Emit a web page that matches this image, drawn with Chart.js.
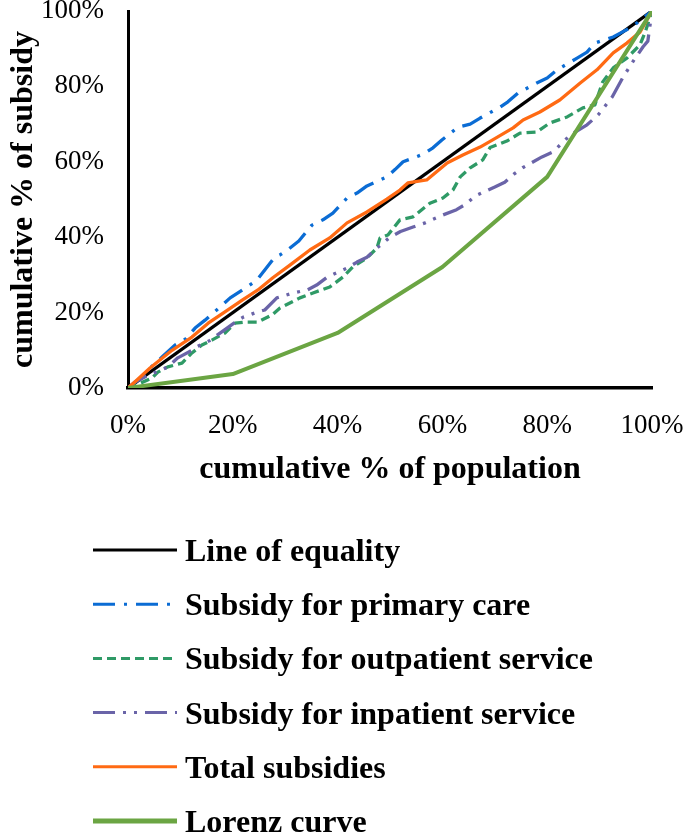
<!DOCTYPE html>
<html>
<head>
<meta charset="utf-8">
<script src="https://cdn.jsdelivr.net/npm/chart.js@4.4.1/dist/chart.umd.min.js"></script>
<style>
  html, body { margin: 0; padding: 0; background: #ffffff; }
  #wrap { width: 685px; height: 832px; }
</style>
</head>
<body>
<div id="wrap"><canvas id="c" width="685" height="832"></canvas></div>
<script>
// ---- data ----
const seriesNames = ["Line of equality", "Subsidy for primary care", "Subsidy for outpatient service", "Subsidy for inpatient service", "Total subsidies", "Lorenz curve"];
const xTickValues = [0, 20, 40, 60, 80, 100];
const yTickValues = [0, 20, 40, 60, 80, 100];

const equalityX = [0, 100];
const equalityY = [0, 100];

const primaryX = [0, 2, 4, 6.5, 9, 11, 12.8, 14.7, 17.6, 19.5, 22.7, 24.6, 26.1, 28, 29, 30.7, 32.6, 35.1, 37.2, 39.1, 41.8, 43.7, 45.6, 49.4, 51, 52.5, 56.3, 58.2, 59.9, 63, 65.3, 67.2, 71, 72.5, 74.4, 78, 80, 81.9, 85.7, 87.6, 89.1, 92.6, 94.3, 96.2, 100];
const primaryY = [0, 2.2, 5, 8.2, 11.4, 13, 15.9, 18, 21.5, 23.9, 26.8, 28.6, 31.3, 34.7, 35.3, 36.9, 39, 43.2, 44.6, 46.4, 50.4, 51.7, 53.6, 56, 58, 60, 62, 63.7, 65.8, 69.2, 70, 71.6, 74.5, 75.9, 78.2, 80.9, 82.2, 84.4, 87.5, 89.1, 91.5, 93.1, 94.4, 95.8, 100];

const outpatientX = [0, 0.8, 4.6, 5.7, 7.6, 10.3, 12.2, 14.1, 16, 18.5, 20.4, 22.3, 24.8, 27.5, 29, 32.8, 35.3, 38.5, 41, 42.9, 45.6, 47.5, 48.1, 49.6, 51.9, 54.4, 57.6, 60.1, 62, 63.4, 65.3, 67.7, 69.1, 72.3, 74.8, 78, 80.5, 83.8, 86.8, 89.1, 90.6, 92.6, 95.2, 97.7, 98.7, 100];
const outpatientY = [0, 0.3, 2.7, 4.2, 5.6, 6.6, 9.3, 11.4, 12.7, 14.6, 17.2, 17.5, 17.5, 19.4, 21.2, 23.9, 25.2, 26.8, 29.4, 32.1, 34.5, 37.1, 39.8, 40.6, 44.6, 45.4, 49, 50.4, 52.5, 56, 58.4, 60.5, 63.8, 65.5, 67.6, 67.9, 70.3, 71.9, 74.3, 75.1, 81.2, 84.9, 87.5, 91, 94.4, 100];

const inpatientX = [0, 1.3, 3.2, 7.6, 9.5, 12.2, 13.2, 15.5, 18.5, 21, 22, 24.2, 26.1, 28.4, 31.5, 34.2, 36, 38, 41.8, 43.7, 45.6, 47.5, 50, 52, 54.4, 56.7, 60.1, 62.7, 64.5, 66.2, 70, 71.9, 73.7, 75.4, 79, 81.1, 84.4, 87.6, 89.7, 92.4, 94.5, 96.8, 98.3, 99.2, 100];
const inpatientY = [0, 1.6, 2.9, 5.6, 8, 10, 11, 12.5, 15.5, 18, 18.8, 19.9, 20.7, 23.9, 25.2, 26, 27.3, 29.4, 31.8, 33.4, 34.7, 37.1, 40, 41.5, 42.7, 43.8, 45.9, 47.3, 48.8, 50.9, 53.3, 54.6, 56.8, 58.5, 61.3, 62.6, 67.1, 69.8, 72.4, 77.2, 82.5, 87.5, 90.5, 92, 100];

const totalX = [0, 1.3, 4.2, 8.4, 12.2, 15.3, 18.5, 21.8, 24.8, 27.7, 30.9, 34.7, 38.5, 41.8, 45.6, 49.4, 51.9, 53.4, 57, 60.9, 63.9, 67.2, 69.6, 73.5, 75.4, 78.6, 82.4, 86.3, 89.5, 92.6, 95.2, 97.7, 100];
const totalY = [0, 1.6, 5.3, 10, 13.5, 17.2, 20.2, 23.3, 26, 29.3, 32.6, 36.6, 39.8, 43.8, 46.7, 50.1, 52.5, 54.4, 55.2, 59.7, 61.8, 63.9, 65.8, 69, 71.1, 73.2, 76.4, 80.9, 84.4, 88.9, 91.5, 94.4, 100];

const lorenzX = [0, 20, 40, 60, 80, 100];
const lorenzY = [0, 3.7, 14.6, 32.1, 56, 100];

// ---- build chart ----
const FONT = "'Liberation Serif', 'Times New Roman', serif";
const pts = (xs, ys) => xs.map((x, i) => ({ x: x, y: ys[i] }));

const styles = [
  { color: '#000000', width: 3.3, dash: [], order: 5 },
  { color: '#0B6CD4', width: 3.3, dash: [22, 9, 3, 9], order: 4 },
  { color: '#2F9A66', width: 3.3, dash: [9, 5], order: 3 },
  { color: '#6A64A8', width: 3.3, dash: [22, 8, 3, 8, 3, 8], order: 2 },
  { color: '#FF6A13', width: 3.3, dash: [], order: 1 },
  { color: '#6BA543', width: 4, dash: [], order: 0 }
];
const seriesData = [
  pts(equalityX, equalityY),
  pts(primaryX, primaryY),
  pts(outpatientX, outpatientY),
  pts(inpatientX, inpatientY),
  pts(totalX, totalY),
  pts(lorenzX, lorenzY)
];

const datasets = seriesNames.map((name, i) => ({
  label: name,
  data: seriesData[i],
  borderColor: styles[i].color,
  backgroundColor: styles[i].color,
  borderWidth: styles[i].width,
  borderDash: styles[i].dash,
  borderJoinStyle: 'round',
  pointRadius: 0,
  tension: 0,
  fill: false,
  order: styles[i].order
}));

const legendPlugin = {
  id: 'stackedLegend',
  afterDraw(chart) {
    const ctx = chart.ctx;
    ctx.save();
    chart.data.datasets.forEach((ds, i) => {
      const cy = 550 + i * 54.2;
      ctx.beginPath();
      ctx.setLineDash(ds.borderDash || []);
      ctx.lineWidth = i === 5 ? 5 : 3;
      ctx.strokeStyle = ds.borderColor;
      ctx.lineCap = 'butt';
      ctx.moveTo(93, cy);
      ctx.lineTo(177, cy);
      ctx.stroke();
      ctx.setLineDash([]);
      ctx.fillStyle = '#000000';
      ctx.font = "bold 32px " + FONT;
      ctx.textAlign = 'left';
      ctx.textBaseline = 'alphabetic';
      ctx.fillText(ds.label, 185, cy + 11);
    });
    ctx.restore();
  }
};

new Chart(document.getElementById('c'), {
  type: 'line',
  data: { datasets: datasets },
  plugins: [legendPlugin],
  options: {
    responsive: false,
    animation: false,
    events: [],
    layout: { padding: { left: 0, right: 33, top: 11, bottom: 342 } },
    plugins: { legend: { display: false }, tooltip: { enabled: false } },
    scales: {
      x: {
        type: 'linear',
        min: 0, max: 100,
        afterBuildTicks: (s) => { s.ticks = xTickValues.map(v => ({ value: v })); },
        afterFit: (s) => { s.height = 102; s.paddingLeft = 0; s.paddingRight = 0; },
        grid: { display: false, drawTicks: false },
        border: { display: true, color: '#000000', width: 3.5 },
        ticks: {
          padding: 22,
          color: '#000000',
          font: { family: FONT, size: 27 },
          callback: (v) => v + '%'
        },
        title: {
          display: true,
          text: 'cumulative % of population',
          color: '#000000',
          font: { family: FONT, size: 32, weight: 'bold' },
          padding: { top: 0, bottom: 1 }
        }
      },
      y: {
        type: 'linear',
        min: 0, max: 100,
        afterBuildTicks: (s) => { s.ticks = yTickValues.map(v => ({ value: v })); },
        afterFit: (s) => { s.width = 128; s.paddingTop = 0; s.paddingBottom = 0; },
        grid: { display: false, drawTicks: false },
        border: { display: true, color: '#000000', width: 3 },
        ticks: {
          padding: 24,
          color: '#000000',
          font: { family: FONT, size: 27, lineHeight: 0.8 },
          callback: (v) => v + '%'
        },
        title: {
          display: true,
          text: 'cumulative % of subsidy',
          color: '#000000',
          font: { family: FONT, size: 32, weight: 'bold' },
          padding: { top: 5, bottom: 2 }
        }
      }
    }
  }
});
</script>
</body>
</html>
